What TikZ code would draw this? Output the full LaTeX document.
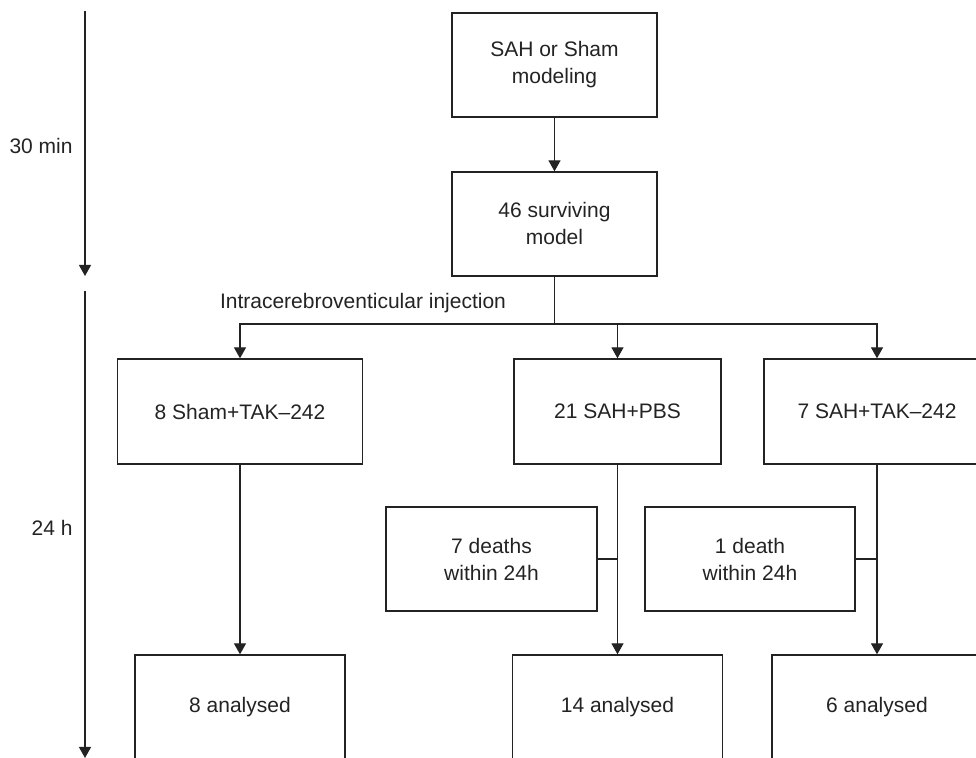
\documentclass[tikz,border=0pt]{standalone}
\usepackage{fontspec}
\setmainfont{Liberation Sans}
\usetikzlibrary{arrows.meta,positioning}
\definecolor{ink}{HTML}{232323}
\tikzset{
  box/.style={draw=ink, line width=0.65pt, align=center, inner sep=0pt, text=ink,
    font=\fontsize{10.5}{13.5}\selectfont},
  flow/.style={-{Triangle[length=5.5pt,width=6pt]}, line width=0.65pt, draw=ink},
  link/.style={line width=0.65pt, draw=ink},
  lab/.style={text=ink, inner sep=0pt, font=\fontsize{10.5}{13.5}\selectfont},
}

\begin{document}
\begin{tikzpicture}[x=0.5pt,y=-0.5pt]
\useasboundingbox (0,0) rectangle (976,758);
\clip (0,0) rectangle (976,758);

% ============ time axis ============
\coordinate (t0) at (85,11);
\coordinate (t1) at (85,276);
\coordinate (t2) at (85,291);
\coordinate (t3) at (85,758);
\draw[flow] (t0) -- (t1);
\draw[flow] (t2) -- (t3);
\node[lab, anchor=east] (min30) at (73,146) {30 min};
\node[lab, anchor=east] (h24) at (73,528) {24 h};

% ============ modeling ============
\node[box, minimum width=102.5pt, minimum height=52pt] (model) at (554.5,65) {SAH or Sham\\modeling};
\node[box, minimum width=102.5pt, minimum height=52pt] (surv) at (554.5,224) {46 surviving\\model};
\draw[flow] (model) -- (surv);

% ============ groups ============
\node[box, minimum width=122.5pt, minimum height=52.5pt] (sham) at (240,411.5) {8 Sham+TAK--242};
\node[box, minimum width=103.5pt, minimum height=52.5pt] (pbs) at (617.5,411.5) {21 SAH+PBS};
\node[box, minimum width=113pt, minimum height=52.5pt] (tak) at (877,411.5) {7 SAH+TAK--242};
\coordinate (split) at (554.5,324);
\node[lab] (icv) at (363,303) {Intracerebroventicular injection};
\draw[link] (surv) -- (split);
\foreach \g in {sham,pbs,tak}
  \draw[flow] (split) -| (\g.north);

% ============ deaths ============
\node[box, minimum width=105.5pt, minimum height=52pt] (dead7) at (491.5,559) {7 deaths\\within 24h};
\node[box, minimum width=105pt, minimum height=52pt] (dead1) at (750,559) {1 death\\within 24h};

% ============ analysed ============
\node[box, minimum width=105pt, minimum height=52.5pt] (an8) at (240,707.5) {8 analysed};
\node[box, minimum width=105pt, minimum height=52.5pt] (an14) at (617.5,707.5) {14 analysed};
\node[box, minimum width=105pt, minimum height=52.5pt] (an6) at (877,707.5) {6 analysed};
\draw[flow] (sham) -- (an8);
\draw[flow] (pbs) -- (an14);
\draw[flow] (tak) -- (an6);
\draw[link] (dead7.east) -- (dead7.east -| pbs.south);
\draw[link] (dead1.east) -- (dead1.east -| tak.south);

\end{tikzpicture}
\end{document}
